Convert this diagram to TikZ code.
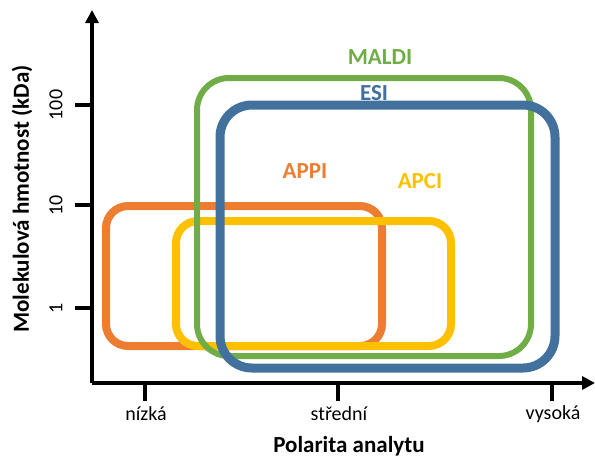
\documentclass[tikz,border=0pt]{standalone}
\usepackage{fontspec}
\setmainfont{Carlito}
\usetikzlibrary{arrows.meta}
\definecolor{appicolor}{RGB}{237,125,49}
\definecolor{apcicolor}{RGB}{255,192,0}
\definecolor{maldicolor}{RGB}{112,173,71}
\definecolor{esicolor}{RGB}{65,113,156}

\tikzset{
  axisline/.style={line width=4pt, black},
  ticklabel/.style={font=\fontsize{20}{22}\selectfont, inner sep=1pt},
  axistitle/.style={font=\fontsize{23}{25}\selectfont\bfseries},
  methodlabel/.style={font=\fontsize{23}{25}\selectfont\bfseries},
  regionbox/.style={line width=8pt, rounded corners=24pt}
}

\begin{document}
\begin{tikzpicture}[x=1pt, y=-1pt]
\useasboundingbox (0,0) rectangle (595,459);

% ================= AXES =================
\coordinate (origin) at (92,383);
\coordinate (ytop) at (92,10);
\coordinate (xend) at (595,383);
\draw[axisline, -{Triangle[length=13pt, width=13pt]}] (origin) -- (ytop);
\draw[axisline, -{Triangle[length=13pt, width=13pt]}] (origin) -- (xend);

% y ticks (log scale)
\foreach \yy/\lab in {105/100, 205/10, 308/1} {
  \draw[axisline] (75,\yy) -- (92,\yy);
  \node[ticklabel, rotate=90] at (56,\yy) {\lab};
}

% x ticks
\foreach \xx/\lab in {145/nízká, 338/střední, 552/vysoká} {
  \draw[axisline] (\xx,383) -- (\xx,401);
  \node[ticklabel] at (\xx+1,414) {\lab};
}

% axis titles
\node[axistitle] (xtitle) at (349,446) {Polarita analytu};
\node[axistitle, rotate=90] (ytitle) at (22,199) {Molekulová hmotnost (kDa)};

% ================= REGIONS =================
\draw[regionbox, appicolor, rounded corners=22pt] (106,206) rectangle (382,346);
\draw[regionbox, apcicolor, rounded corners=22pt] (176,221) rectangle (451,346);
\draw[regionbox, maldicolor, line width=6pt, rounded corners=32pt] (197,78) rectangle (531,356);
\draw[regionbox, esicolor, line width=9pt, rounded corners=32pt] (220,105) rectangle (555,368);

% labels
\node[methodlabel, maldicolor] (maldi) at (380,57) {MALDI};
\node[methodlabel, esicolor] (esi) at (374,93) {ESI};
\node[methodlabel, appicolor] (appi) at (305,171) {APPI};
\node[methodlabel, apcicolor] (apci) at (420,181) {APCI};

\end{tikzpicture}
\end{document}
